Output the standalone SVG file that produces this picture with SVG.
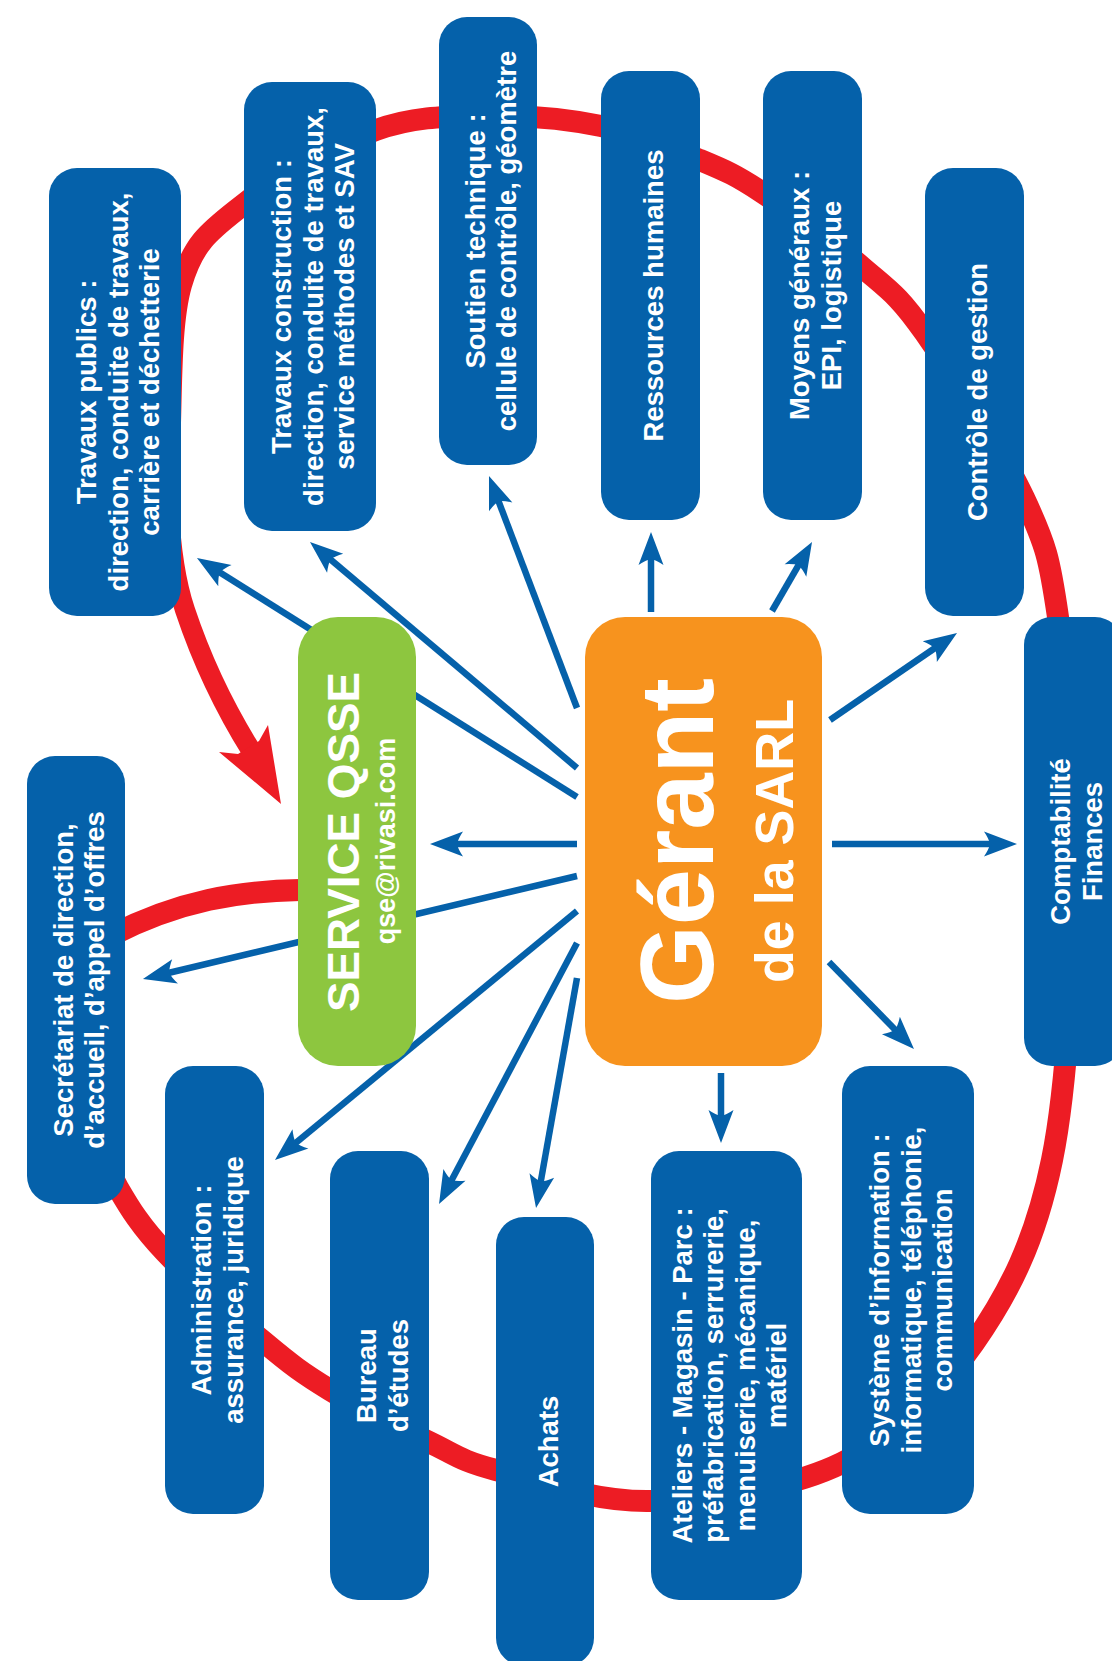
<svg xmlns="http://www.w3.org/2000/svg" width="1112" height="1661" viewBox="0 0 1112 1661">
<defs>
<style>
.box{fill:#0561AA}
.t{font-family:"Liberation Sans",Arial,Helvetica,sans-serif;font-weight:bold;font-size:27.5px;fill:#fff;text-anchor:middle}
.ring{fill:none;stroke:#ED1C24;stroke-width:22}
.conn{stroke:#0561AA;stroke-width:6.5;fill:none;marker-end:url(#ah)}
</style>
<marker id="ah" markerUnits="userSpaceOnUse" markerWidth="40" markerHeight="30" refX="0" refY="0" orient="auto" overflow="visible">
<path d="M13,0 L-20,-12.5 Q-15,-5 -14,0 Q-15,5 -20,12.5 Z" fill="#0561AA"/>
</marker>
</defs>
<rect width="1112" height="1661" fill="#fff"/>
<g id="ring">
<path class="ring" d="M168 470 C172.3 408.3 168.3 329.3 181 285 C193.7 240.7 211.5 229.8 244 204 C276.5 178.2 335.3 144.7 376 130 C416.7 115.3 450.5 116.7 488 116 C525.5 115.3 565.7 118.7 601 126 C636.3 133.3 673 148.8 700 160 C727 171.2 736 175.2 763 193 C790 210.8 835 243.7 862 267 C889 290.3 898 294.5 925 333 C952 371.5 1001.8 450.7 1024 498 C1046.2 545.3 1049.5 558.3 1058 617 C1066.5 675.7 1076 759.5 1075 850 C1074 940.5 1068.8 1077.8 1052 1160 C1035.2 1242.2 1009 1292.5 974 1343 C939 1393.5 895.8 1436.7 842 1463 C788.2 1489.3 708.7 1499.8 651 1501 C593.3 1502.2 533 1479.8 496 1470 C459 1460.2 456.7 1455.3 429 1442 C401.3 1428.7 357.5 1406.7 330 1390 C302.5 1373.3 291.5 1365 264 1342 C236.5 1319 189.3 1277.7 165 1252 C140.7 1226.3 129.7 1208.3 118 1188 C106.3 1167.7 102.7 1149.3 95 1130"/>
</g>
<g id="connectors">
<path d="M168 470 C168 540 175 580 185 610 C200 655 222 704 252 752" fill="none" stroke="#ED1C24" stroke-width="20"/>
<polygon points="281,804 219,752 238,754 259,741 268,725" fill="#ED1C24"/>
<path d="M300 890 C240 891 180 900 110 936" class="ring"/>
<line class="conn" x1="577" y1="797" x2="208" y2="564.9"/>
<line class="conn" x1="577" y1="768" x2="319.9" y2="550.4"/>
<line class="conn" x1="577" y1="708" x2="493.6" y2="488.2"/>
<line class="conn" x1="651" y1="612" x2="651" y2="545"/>
<line class="conn" x1="772" y1="611" x2="805.5" y2="553.2"/>
<line class="conn" x1="830" y1="720" x2="946.3" y2="640.3"/>
<line class="conn" x1="832" y1="844" x2="1004" y2="844"/>
<line class="conn" x1="829" y1="962" x2="904.9" y2="1039.7"/>
<line class="conn" x1="721" y1="1073" x2="721" y2="1130"/>
<line class="conn" x1="577" y1="978" x2="538.3" y2="1195.2"/>
<line class="conn" x1="577" y1="943" x2="445.1" y2="1192.5"/>
<line class="conn" x1="577" y1="911" x2="285" y2="1151.7"/>
<line class="conn" x1="577" y1="876" x2="155.6" y2="976"/>
<line class="conn" x1="577" y1="844" x2="443" y2="844"/>
</g>
<g id="n-travaux-publics">
<rect class="box" x="49" y="168" width="132" height="448" rx="28"/>
<text class="t" transform="translate(96 392) rotate(-90)"><tspan x="0">Travaux publics :</tspan><tspan x="0" dy="31.5">direction, conduite de travaux,</tspan><tspan x="0" dy="31.5">carrière et déchetterie</tspan></text>
</g>
<g id="n-travaux-construction">
<rect class="box" x="244" y="82" width="132" height="449" rx="28"/>
<text class="t" transform="translate(291 306.5) rotate(-90)"><tspan x="0">Travaux construction :</tspan><tspan x="0" dy="31.5">direction, conduite de travaux,</tspan><tspan x="0" dy="31.5">service méthodes et SAV</tspan></text>
</g>
<g id="n-soutien">
<rect class="box" x="439" y="17" width="98" height="448" rx="28"/>
<text class="t" transform="translate(484.75 241) rotate(-90)"><tspan x="0">Soutien technique :</tspan><tspan x="0" dy="31.5">cellule de contrôle, géomètre</tspan></text>
</g>
<g id="n-rh">
<rect class="box" x="601" y="71" width="99" height="449" rx="28"/>
<text class="t" transform="translate(663 295.5) rotate(-90)">Ressources humaines</text>
</g>
<g id="n-moyens">
<rect class="box" x="763" y="71" width="99" height="449" rx="28"/>
<text class="t" transform="translate(809.25 295.5) rotate(-90)"><tspan x="0">Moyens généraux :</tspan><tspan x="0" dy="31.5">EPI, logistique</tspan></text>
</g>
<g id="n-controle">
<rect class="box" x="925" y="168" width="99" height="448" rx="28"/>
<text class="t" transform="translate(987 392) rotate(-90)">Contrôle de gestion</text>
</g>
<g id="n-compta">
<rect class="box" x="1024" y="617" width="99" height="449" rx="28"/>
<text class="t" transform="translate(1070.25 841.5) rotate(-90)"><tspan x="0">Comptabilité</tspan><tspan x="0" dy="31.5">Finances</tspan></text>
</g>
<g id="n-systeme">
<rect class="box" x="842" y="1066" width="132" height="448" rx="28"/>
<text class="t" transform="translate(889 1290) rotate(-90)"><tspan x="0">Système d’information :</tspan><tspan x="0" dy="31.5">informatique, téléphonie,</tspan><tspan x="0" dy="31.5">communication</tspan></text>
</g>
<g id="n-ateliers">
<rect class="box" x="651" y="1151" width="151" height="449" rx="28"/>
<text class="t" transform="translate(691.75 1375.5) rotate(-90)"><tspan x="0">Ateliers - Magasin - Parc :</tspan><tspan x="0" dy="31.5">préfabrication, serrurerie,</tspan><tspan x="0" dy="31.5">menuiserie, mécanique,</tspan><tspan x="0" dy="31.5">matériel</tspan></text>
</g>
<g id="n-achats">
<rect class="box" x="496" y="1217" width="98" height="449" rx="28"/>
<text class="t" transform="translate(557.5 1441.5) rotate(-90)">Achats</text>
</g>
<g id="n-bureau">
<rect class="box" x="330" y="1151" width="99" height="449" rx="28"/>
<text class="t" transform="translate(376.25 1375.5) rotate(-90)"><tspan x="0">Bureau</tspan><tspan x="0" dy="31.5">d’études</tspan></text>
</g>
<g id="n-administration">
<rect class="box" x="165" y="1066" width="99" height="448" rx="28"/>
<text class="t" transform="translate(211.25 1290) rotate(-90)"><tspan x="0">Administration :</tspan><tspan x="0" dy="31.5">assurance, juridique</tspan></text>
</g>
<g id="n-secretariat">
<rect class="box" x="27" y="756" width="98" height="448" rx="28"/>
<text class="t" transform="translate(72.75 980) rotate(-90)"><tspan x="0">Secrétariat de direction,</tspan><tspan x="0" dy="31.5">d’accueil, d’appel d’offres</tspan></text>
</g>
<g id="n-qsse">
<rect x="298" y="617" width="118" height="449" rx="40" fill="#8DC63F"/>
<text class="t" style="font-size:45px" textLength="340" lengthAdjust="spacingAndGlyphs" transform="translate(359 842) rotate(-90)">SERVICE QSSE</text>
<text class="t" style="font-size:27px" transform="translate(395 841) rotate(-90)">qse@rivasi.com</text>
</g>
<g id="n-gerant">
<rect x="585" y="617" width="237" height="449" rx="40" fill="#F7931E"/>
<text class="t" style="font-size:103px" textLength="326" lengthAdjust="spacingAndGlyphs" transform="translate(713 841) rotate(-90)">Gérant</text>
<text class="t" style="font-size:54px" textLength="284" lengthAdjust="spacingAndGlyphs" transform="translate(793 841) rotate(-90)">de la SARL</text>
</g>
</svg>
